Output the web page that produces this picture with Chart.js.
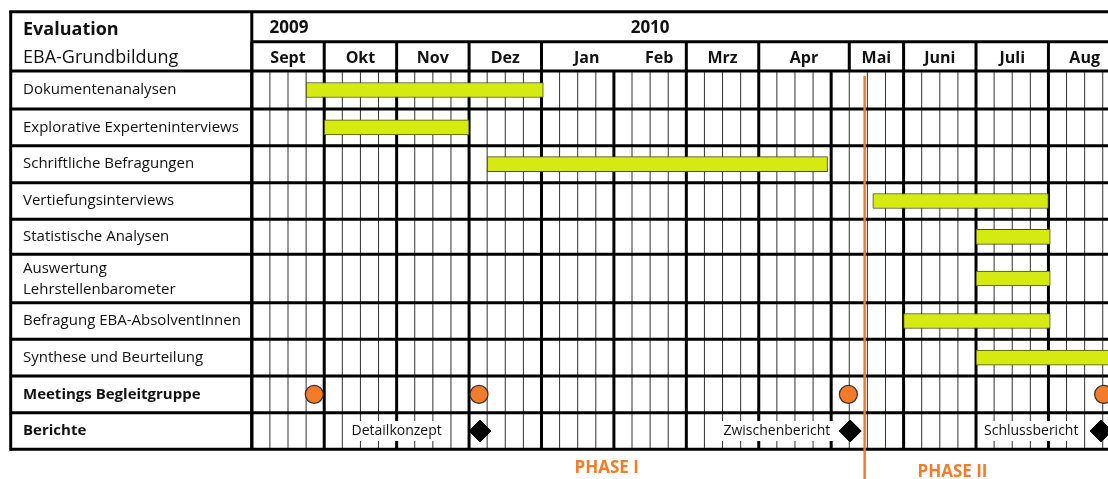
<!DOCTYPE html>
<html>
<head>
<meta charset="utf-8">
<script src="https://cdn.jsdelivr.net/npm/chart.js@4/dist/chart.umd.min.js"></script>
<style>
html,body{margin:0;padding:0;background:#fff;overflow:hidden}
#wrap{width:1108px;height:479px;position:relative}
canvas{display:block}
</style>
</head>
<body>
<div id="wrap"><canvas id="chartCanvas"></canvas></div>
<script>
// --- data (weeks counted from start of Sept 2009) ---
var tasks = ['Dokumentenanalysen', 'Explorative Experteninterviews', 'Schriftliche Befragungen',
	'Vertiefungsinterviews', 'Statistische Analysen', ['Auswertung', 'Lehrstellenbarometer'],
	'Befragung EBA-AbsolventInnen', 'Synthese und Beurteilung', 'Meetings Begleitgruppe', 'Berichte']
var taskStart = [3, 4, 13, 34.3, 40, 40, 36, 40]
var taskEnd = [16.1, 12, 31.8, 44, 44.1, 44.1, 44.1, 49]
var meetings = [3.45, 12.55, 32.95, 47.05]
var reports = [12.6, 33.05, 46.9]
var reportNames = ['Detailkonzept', 'Zwischenbericht', 'Schlussbericht']
var reportLabelAt = [8, 29, 43.05]
var years = ['2009', '2010']
var yearAt = [2.05, 22]
var months = ['Sept', 'Okt', 'Nov', 'Dez', 'Jan', 'Feb', 'Mrz', 'Apr', 'Mai', 'Juni', 'Juli', 'Aug']
var monthStart = [0, 4, 8, 12, 16, 21, 24, 28, 33, 36, 40, 44]
var monthEnd = 48
var phases = ['PHASE I', 'PHASE II']
var phaseAt = [19.6, 38.7]
var phaseBreak = 33.85

// layout
var rowHeights = [38, 36.7, 37, 36.6, 35, 48.4, 36.6, 36.7, 36.7, 36.6]
var FONT = '"Open Sans", "DejaVu Sans", sans-serif'
var ORANGE = '#f47b2a'

var rowEdges = [0]
for (var i = 0; i < rowHeights.length; i++) rowEdges.push(rowEdges[i] + rowHeights[i])
function rowCenter(i) { return (rowEdges[i] + rowEdges[i + 1]) / 2 }

var barData = taskStart.map(function (s, i) {
	return { x: [s, taskEnd[i]], y: rowCenter(i) }
})
var meetData = meetings.map(function (w) { return { x: w, y: rowCenter(8) } })
var repData = reports.map(function (w) { return { x: w, y: rowCenter(9) } })

function line(ctx, x1, y1, x2, y2, w, c) {
	ctx.beginPath()
	ctx.lineWidth = w
	ctx.strokeStyle = c
	ctx.moveTo(x1, y1)
	ctx.lineTo(x2, y2)
	ctx.stroke()
}

var gridPlugin = {
	id: 'gantt',
	beforeDraw: function (chart) {
		var ctx = chart.ctx
		ctx.save()
		ctx.fillStyle = '#fff'
		ctx.fillRect(0, 0, chart.width, chart.height)
		ctx.restore()
	},
	beforeDatasetsDraw: function (chart) {
		var ctx = chart.ctx, xs = chart.scales.x, ys = chart.scales.y
		var a = chart.chartArea
		var L = 10.7, R = chart.width, T = 11.7, mid = 41.7
		ctx.save()
		// week lines
		for (var k = 0; k <= 48; k++) {
			var x = xs.getPixelForValue(k)
			if (k % 4 == 0) line(ctx, x, a.top, x, a.bottom, 3, '#000')
			else line(ctx, x, a.top, x, a.bottom, 1, '#333')
		}
		// row lines
		for (var r = 0; r < rowEdges.length; r++) {
			var y = ys.getPixelForValue(rowEdges[r])
			line(ctx, L, y, R, y, 3, '#000')
		}
		// frame + header
		line(ctx, L - 1.5, T, R, T, 3, '#000')
		line(ctx, L, T, L, a.bottom + 1.5, 3, '#000')
		line(ctx, a.left, T, a.left, a.bottom, 3, '#000')
		line(ctx, a.left, mid, R, mid, 3, '#000')
		for (var m = 0; m < months.length; m++) {
			var mx = xs.getPixelForValue(monthStart[m])
			if (months[m] != 'Feb') line(ctx, mx, mid, mx, a.top, 3, '#000')
		}
		var ex = xs.getPixelForValue(monthEnd)
		line(ctx, ex, mid, ex, a.top, 3, '#000')

		ctx.fillStyle = '#111'
		ctx.textBaseline = 'middle'
		ctx.textAlign = 'left'
		ctx.font = 'bold 18px ' + FONT
		ctx.fillText('Evaluation', 23, 30)
		ctx.font = '18px ' + FONT
		ctx.fillText('EBA-Grundbildung', 23, 58)
		ctx.textAlign = 'center'
		ctx.font = 'bold 17px ' + FONT
		years.forEach(function (yr, i) { ctx.fillText(yr, xs.getPixelForValue(yearAt[i]), 28.5) })
		ctx.font = 'bold 16px ' + FONT
		months.forEach(function (mo, i) {
			var end = i < months.length - 1 ? monthStart[i + 1] : monthEnd
			ctx.fillText(mo, xs.getPixelForValue((monthStart[i] + end) / 2), 58)
		})
		// row labels
		ctx.textAlign = 'left'
		tasks.forEach(function (t, i) {
			ctx.font = (i >= 8 ? 'bold 15px ' : '15px ') + FONT
			var cy = ys.getPixelForValue(rowCenter(i))
			if (Array.isArray(t)) {
				ctx.fillText(t[0], 23, cy - 10)
				ctx.fillText(t[1], 23, cy + 11)
			} else ctx.fillText(t, 23, cy)
		})
		// report labels
		ctx.font = '14px ' + FONT
		ctx.textAlign = 'center'
		var ry = ys.getPixelForValue(rowCenter(9))
		reportNames.forEach(function (n, i) {
			var cx = xs.getPixelForValue(reportLabelAt[i])
			var w = ctx.measureText(n).width + 8
			ctx.fillStyle = '#fff'
			ctx.fillRect(cx - w / 2, ry - 10, w, 20)
			ctx.fillStyle = '#111'
			ctx.fillText(n, cx, ry)
		})
		ctx.restore()
	},
	afterDatasetsDraw: function (chart) {
		var ctx = chart.ctx, xs = chart.scales.x
		ctx.save()
		var px = xs.getPixelForValue(phaseBreak)
		line(ctx, px, 76, px, chart.height, 2.5, ORANGE)
		ctx.fillStyle = ORANGE
		ctx.font = 'bold 17px ' + FONT
		ctx.textAlign = 'center'
		ctx.textBaseline = 'middle'
		ctx.fillText(phases[0], xs.getPixelForValue(phaseAt[0]), 468)
		ctx.fillText(phases[1], xs.getPixelForValue(phaseAt[1]), 472)
		ctx.restore()
	}
}

var ctx = document.getElementById('chartCanvas').getContext('2d')
new Chart(ctx, {
	type: 'bar',
	data: {
		datasets: [
		{
			type: 'bar',
			label: 'Aufgaben',
			data: barData,
			backgroundColor: '#d4ea10',
			borderColor: '#4a4d12',
			borderWidth: 1,
			borderSkipped: false,
			barThickness: 15
		},
		{
			type: 'scatter',
			label: 'Meetings',
			data: meetData,
			pointStyle: 'circle',
			pointRadius: 9,
			backgroundColor: ORANGE,
			borderColor: '#333',
			borderWidth: 1.2,
			clip: false
		},
		{
			type: 'scatter',
			label: 'Berichte',
			data: repData,
			pointStyle: 'rectRot',
			pointRadius: 11,
			backgroundColor: '#000',
			borderColor: '#000',
			borderWidth: 1,
			clip: false
		}
		]
	},
	options: {
		indexAxis: 'y',
		responsive: true,
		maintainAspectRatio: false,
		animation: false,
		layout: { autoPadding: false, padding: { left: 251.8, top: 71, right: 0, bottom: 29.7 } },
		scales: {
			x: { type: 'linear', display: false, offset: false, min: 0, max: 47.29 },
			y: { type: 'linear', display: false, offset: false, min: 0, max: rowEdges[rowEdges.length - 1], reverse: true }
		},
		plugins: { legend: { display: false }, tooltip: { enabled: false } }
	},
	plugins: [gridPlugin]
})
</script>
</body>
</html>
